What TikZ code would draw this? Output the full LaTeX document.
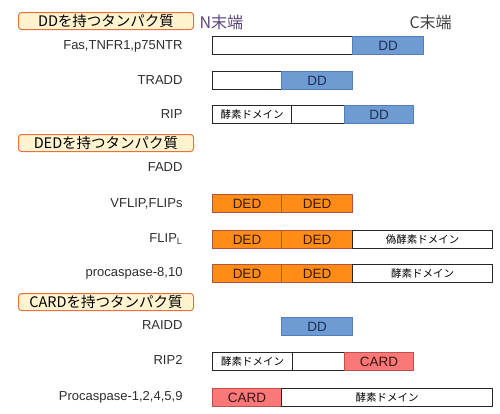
\documentclass[tikz,border=0pt]{standalone}
\usepackage{fontspec}
\setmainfont{Liberation Sans}
\newfontfamily\jpfont{Noto Sans CJK JP}
\definecolor{headfill}{RGB}{255,244,207}
\definecolor{headline}{RGB}{232,112,58}
\definecolor{ddfill}{RGB}{110,155,210}
\definecolor{ddline}{RGB}{82,126,186}
\definecolor{ddtext}{RGB}{30,47,85}
\definecolor{dedfill}{RGB}{255,140,22}
\definecolor{dedline}{RGB}{181,83,60}
\definecolor{dedtext}{RGB}{58,26,0}
\definecolor{cardfill}{RGB}{250,120,120}
\definecolor{cardline}{RGB}{192,80,77}
\definecolor{cardtext}{RGB}{58,20,20}
\definecolor{labtext}{RGB}{45,45,45}
\definecolor{nterm}{RGB}{90,68,120}

\begin{document}
\begin{tikzpicture}[x=1pt,y=-1pt,line width=1pt,
  seg/.style={draw,anchor=north west,inner sep=0pt,minimum height=18pt},
  plain/.style={seg,draw=black!85,fill=white,font=\jpfont\fontsize{10.5}{11}\selectfont},
  dd/.style={seg,draw=ddline,fill=ddfill,text=ddtext,font=\fontsize{13.5}{14}\selectfont},
  ded/.style={seg,draw=dedline,fill=dedfill,text=dedtext,font=\fontsize{13.5}{14}\selectfont},
  card/.style={seg,draw=cardline,fill=cardfill,text=cardtext,font=\fontsize{13.5}{14}\selectfont},
  head/.style={draw=headline,fill=headfill,rounded corners=3pt,anchor=north west,inner sep=0pt,
    minimum width=175pt,minimum height=17pt,font=\jpfont\fontsize{14.5}{15}\selectfont},
  lab/.style={anchor=base east,inner sep=0pt,text=labtext,font=\fontsize{13}{14}\selectfont}]
\useasboundingbox (0,0) rectangle (500,413);
% DD group
\node[head] (hdd) at (18,12) {DDを持つタンパク質};
\node[anchor=west,inner sep=0pt,text=nterm,font=\jpfont\fontsize{16}{17}\selectfont] (nend) at (199,22) {N末端};
\node[anchor=west,inner sep=0pt,text=black!75,font=\jpfont\fontsize{16}{17}\selectfont] (cend) at (409,22) {C末端};
\node[lab] (lfas) at (183,49) {Fas,TNFR1,p75NTR};
\node[plain,minimum width=140pt] (fasa) at (212,36) {};
\node[dd,minimum width=71pt] (fasb) at (352,36) {DD};
\node[lab] (ltradd) at (183,84.5) {TRADD};
\node[plain,minimum width=69pt] (tradda) at (212,71) {};
\node[dd,minimum width=71pt] (traddb) at (281,71) {DD};
\node[lab] (lrip) at (183,118.5) {RIP};
\node[plain,minimum width=79pt] (ripa) at (212,105) {酵素ドメイン};
\node[plain,minimum width=53pt] (ripb) at (291,105) {};
\node[dd,minimum width=69pt] (ripc) at (344,105) {DD};
% DED group
\node[head] (hded) at (18,134) {DEDを持つタンパク質};
\node[lab] (lfadd) at (183,171.5) {FADD};
\node[lab] (lvflip) at (183,207.5) {VFLIP,FLIPs};
\node[ded,minimum width=69pt] (vflipa) at (212,194) {DED};
\node[ded,minimum width=71pt] (vflipb) at (281,194) {DED};
\node[lab] (lflipl) at (183,242.5) {FLIP\textsubscript{L}};
\node[ded,minimum width=69pt] (flipla) at (212,230) {DED};
\node[ded,minimum width=71pt] (fliplb) at (281,230) {DED};
\node[plain,minimum width=140pt] (fliplc) at (352,230) {偽酵素ドメイン};
\node[lab] (lcasp) at (183,276.5) {procaspase-8,10};
\node[ded,minimum width=69pt] (caspa) at (212,264) {DED};
\node[ded,minimum width=71pt] (caspb) at (281,264) {DED};
\node[plain,minimum width=140pt] (caspc) at (352,264) {酵素ドメイン};
% CARD group
\node[head] (hcard) at (18,293) {CARDを持つタンパク質};
\node[lab] (lraidd) at (183,329.5) {RAIDD};
\node[dd,minimum width=71pt] (raidda) at (281,317) {DD};
\node[lab] (lrip2) at (183,364.5) {RIP2};
\node[plain,minimum width=80pt] (rip2a) at (212,352) {酵素ドメイン};
\node[plain,minimum width=52pt] (rip2b) at (292,352) {};
\node[card,minimum width=69pt] (rip2c) at (344,352) {CARD};
\node[lab] (lpcasp) at (183,400.5) {Procaspase-1,2,4,5,9};
\node[card,minimum width=69pt] (pcaspa) at (212,388) {CARD};
\node[plain,minimum width=211pt] (pcaspb) at (281,388) {酵素ドメイン};
\end{tikzpicture}
\end{document}
